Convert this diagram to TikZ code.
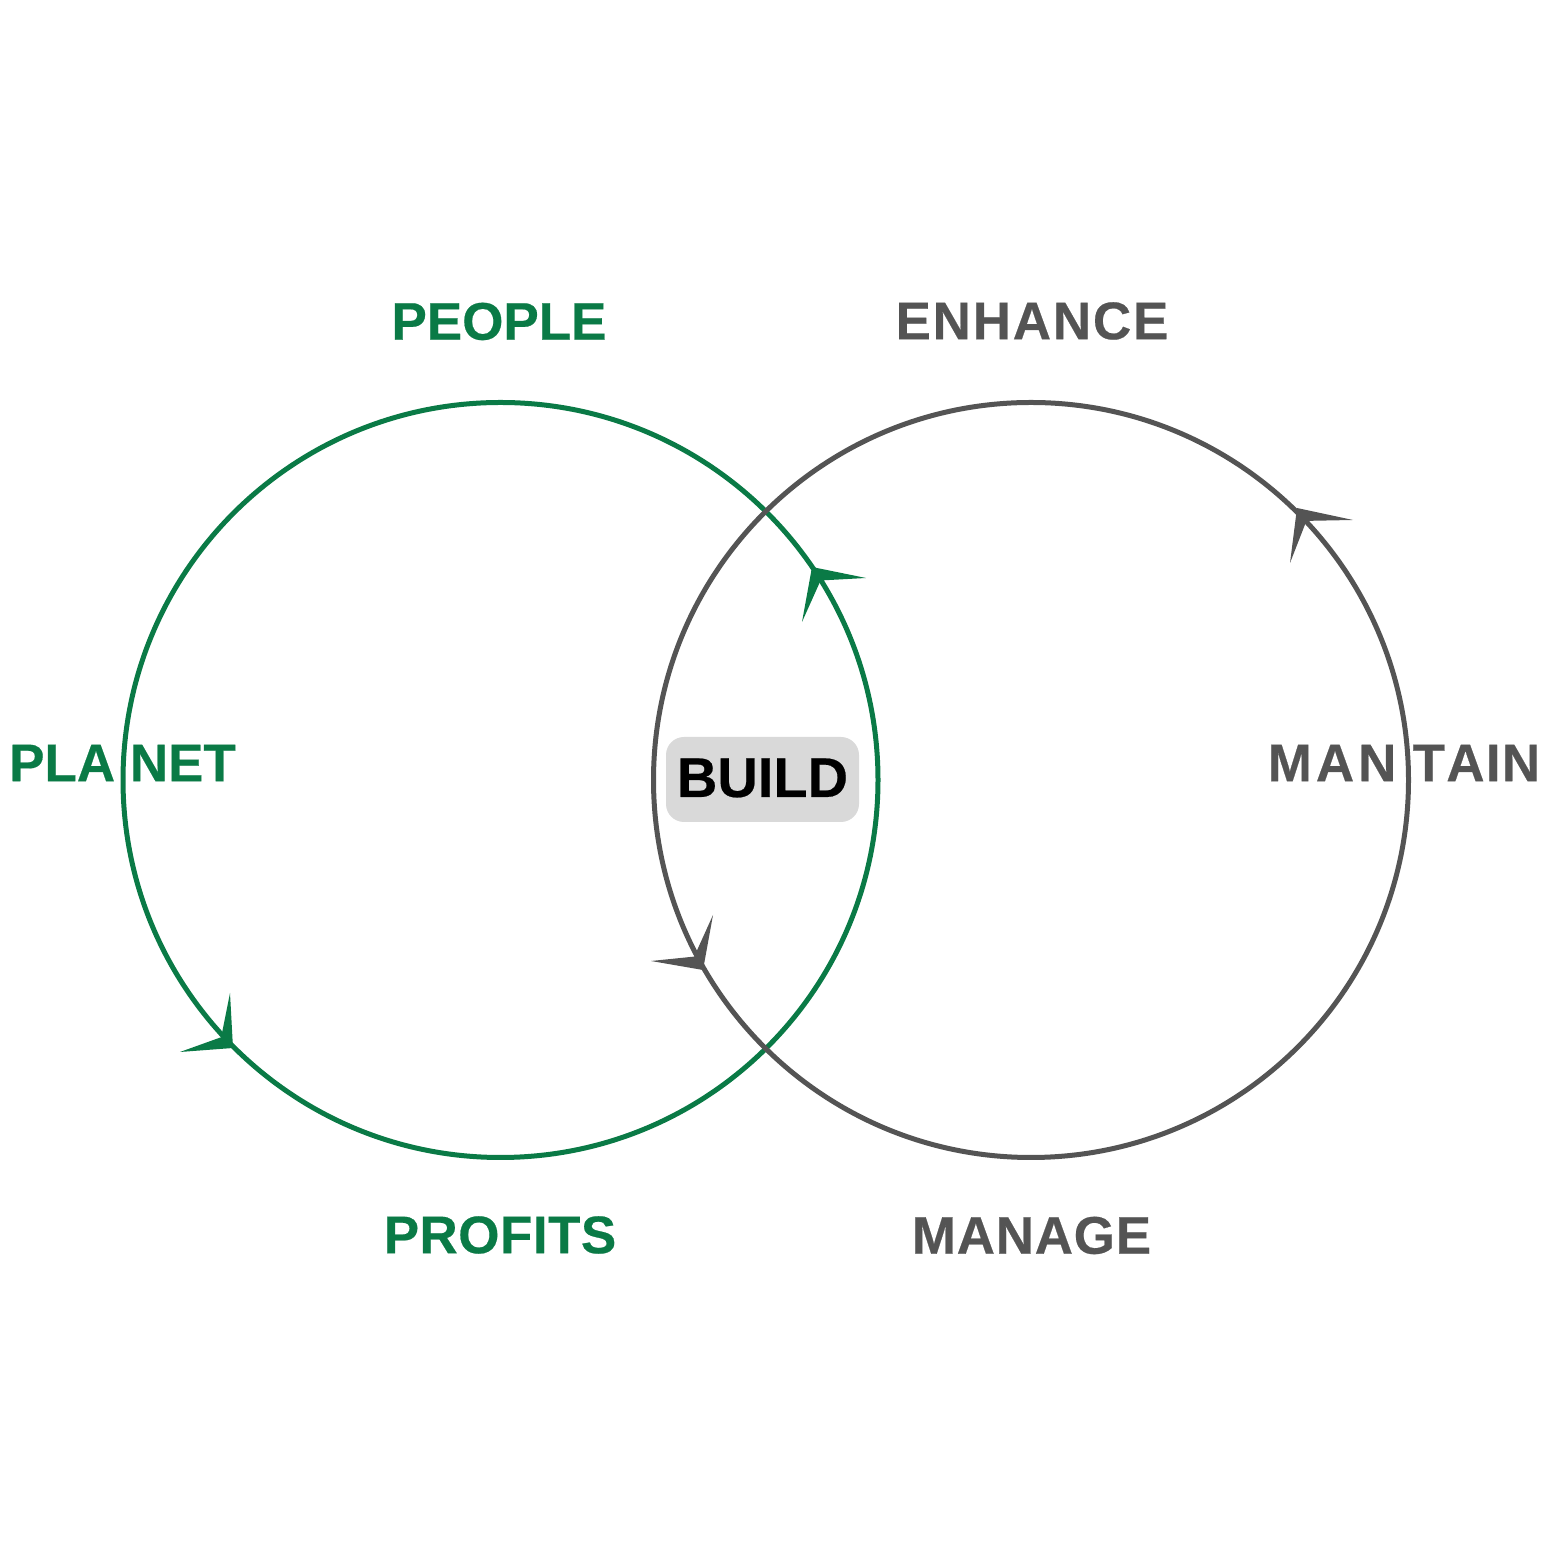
\documentclass[tikz,border=0pt]{standalone}
\usepackage{fontspec}
\setmainfont{Liberation Sans}
\definecolor{leafgreen}{HTML}{0A7A46}
\definecolor{slate}{HTML}{545454}
\definecolor{pillgray}{HTML}{D9D9D9}
\tikzset{
  word/.style={inner sep=0pt, anchor=center,
    font=\fontsize{53}{60}\selectfont\bfseries\addfontfeature{LetterSpace=#1,FakeBold=0.4}},
  word/.default=0,
  ring/.style={line width=5pt},
}
\begin{document}
\begin{tikzpicture}[x=1pt,y=1pt]
  \useasboundingbox (0,0) rectangle (1563,1563);
  % labels around the two cycles
  \node[word=0,   text=leafgreen] (people)  at (499,1241.5) {PEOPLE};
  \node[word=0,   text=leafgreen] (planet)  at (122.5,800)  {PLA NET};
  \node[word=0.9, text=leafgreen] (profits) at (500,328)    {PROFITS};
  \node[word=3.4, text=slate] (enhance)  at (1032,1242)   {ENHANCE};
  \node[word=0,   text=slate] (maintain) at (1404,800)
    {M\kern4pt A\kern4pt N\kern1.5pt\ T\kern1.3pt A\kern1.3pt I\kern1.3pt N};
  \node[word=1.4, text=slate] (manage)   at (1031.5,327.5) {MANAGE};
  % ring centres
  \coordinate (cl) at (500.5,783);
  \coordinate (cr) at (1031,783);
  % the two cycles
  \draw[ring, leafgreen] (cl) circle[radius=377.5];
  \draw[ring, slate] (cr) circle[radius=377.5];
  % barbed heads: tip, barb, notch, barb
  \fill[leafgreen] (812,996) -- (866,985) -- (820.6,982.5) -- (802,941) -- cycle;
  \fill[leafgreen] (233,515) -- (230,570) -- (221.2,525.8) -- (180,511) -- cycle;
  \fill[slate] (1297,1055) -- (1353,1043) -- (1306.4,1042.1) -- (1290,1000) -- cycle;
  \fill[slate] (703,593) -- (713,648) -- (694.2,606.4) -- (651,602) -- cycle;
  % overlap label
  \node[fill=pillgray, rounded corners=18pt, minimum width=193pt, minimum height=85pt,
        inner sep=0pt] (pill) at (762.5,783.5) {};
  \node[inner sep=0pt, font=\fontsize{56}{64}\selectfont\bfseries\addfontfeature{FakeBold=0.4}]
    (build) at (762.5,785) {BUILD};
\end{tikzpicture}
\end{document}
